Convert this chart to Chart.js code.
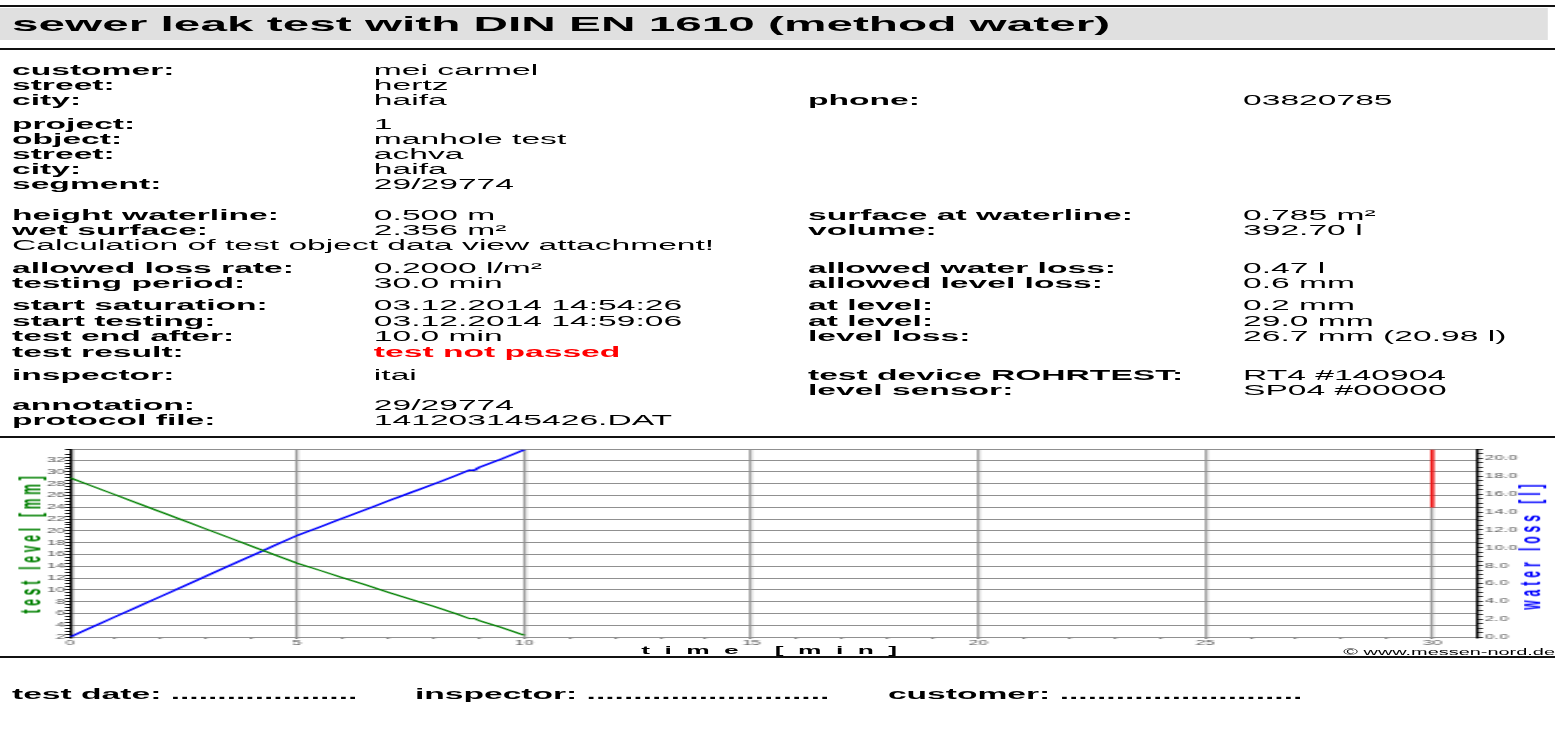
<!DOCTYPE html>
<html>
<head>
  <meta charset="UTF-8">
  <script src="https://cdn.jsdelivr.net/npm/chart.js"></script>
  <title>sewer leak test</title>
  <style>
    body { margin: 0; background: #fff; overflow: hidden; width: 1555px; height: 738px; }
    /* the report is laid out at 648px and stretched sideways like the original print */
    #page { position: absolute; left: 0; top: 0; width: 648px; height: 738px;
      transform-origin: 0 0; transform: scaleX(2.3997);
      font-family: "Liberation Sans", Arial, sans-serif; color: #000; }
    .t { position: absolute; white-space: nowrap; font-size: 14px; line-height: 16px; }
    .b { font-weight: bold; }
    .c1 { left: 5px; } .c2 { left: 155.8px; } .c3 { left: 336.7px; } .c4 { left: 518px; }
    .rule { position: absolute; left: 0; width: 648px; height: 2px; background: #111; }
    #titlebar { position: absolute; left: 0; top: 8px; width: 645px; height: 32px; background: #e0e0e0; }
    #title { position: absolute; left: 5px; top: 12px; font-size: 19.9px; line-height: 24px; font-weight: bold; white-space: nowrap; }
    #chartbox { position: absolute; left: 0; top: 440px; width: 648px; height: 217px; }
    .axt { position: absolute; white-space: nowrap; font-weight: bold; font-size: 12px; line-height: 12px; }
  </style>
</head>
<body>
<div id="page">
  <div class="rule" style="top:5px"></div>
  <div id="titlebar"></div>
  <div id="title">sewer leak test with DIN EN 1610 (method water)</div>
  <div class="rule" style="top:48px"></div>

  <div class="t b c1" style="top:62px">customer:</div><div class="t c2" style="top:62px">mei carmel</div>
  <div class="t b c1" style="top:77px">street:</div><div class="t c2" style="top:77px">hertz</div>
  <div class="t b c1" style="top:92px">city:</div><div class="t c2" style="top:92px">haifa</div>
  <div class="t b c3" style="top:92px">phone:</div><div class="t c4" style="top:92px">03820785</div>

  <div class="t b c1" style="top:116px">project:</div><div class="t c2" style="top:116px">1</div>
  <div class="t b c1" style="top:131px">object:</div><div class="t c2" style="top:131px">manhole test</div>
  <div class="t b c1" style="top:146px">street:</div><div class="t c2" style="top:146px">achva</div>
  <div class="t b c1" style="top:161px">city:</div><div class="t c2" style="top:161px">haifa</div>
  <div class="t b c1" style="top:176px">segment:</div><div class="t c2" style="top:176px">29/29774</div>

  <div class="t b c1" style="top:207px">height waterline:</div><div class="t c2" style="top:207px">0.500 m</div>
  <div class="t b c3" style="top:207px">surface at waterline:</div><div class="t c4" style="top:207px">0.785 m²</div>
  <div class="t b c1" style="top:222px">wet surface:</div><div class="t c2" style="top:222px">2.356 m²</div>
  <div class="t b c3" style="top:222px">volume:</div><div class="t c4" style="top:222px">392.70 l</div>
  <div class="t c1" style="top:237px">Calculation of test object data view attachment!</div>

  <div class="t b c1" style="top:260px">allowed loss rate:</div><div class="t c2" style="top:260px">0.2000 l/m²</div>
  <div class="t b c3" style="top:260px">allowed water loss:</div><div class="t c4" style="top:260px">0.47 l</div>
  <div class="t b c1" style="top:275px">testing period:</div><div class="t c2" style="top:275px">30.0 min</div>
  <div class="t b c3" style="top:275px">allowed level loss:</div><div class="t c4" style="top:275px">0.6 mm</div>

  <div class="t b c1" style="top:297px">start saturation:</div><div class="t c2" style="top:297px">03.12.2014 14:54:26</div>
  <div class="t b c3" style="top:297px">at level:</div><div class="t c4" style="top:297px">0.2 mm</div>
  <div class="t b c1" style="top:313px">start testing:</div><div class="t c2" style="top:313px">03.12.2014 14:59:06</div>
  <div class="t b c3" style="top:313px">at level:</div><div class="t c4" style="top:313px">29.0 mm</div>
  <div class="t b c1" style="top:328px">test end after:</div><div class="t c2" style="top:328px">10.0 min</div>
  <div class="t b c3" style="top:328px">level loss:</div><div class="t c4" style="top:328px">26.7 mm (20.98 l)</div>
  <div class="t b c1" style="top:344px">test result:</div><div class="t b c2" style="top:344px;color:#ff0000">test not passed</div>

  <div class="t b c1" style="top:367px">inspector:</div><div class="t c2" style="top:367px">itai</div>
  <div class="t b c3" style="top:367px">test device ROHRTEST:</div><div class="t c4" style="top:367px">RT4 #140904</div>
  <div class="t b c3" style="top:382px">level sensor:</div><div class="t c4" style="top:382px">SP04 #00000</div>

  <div class="t b c1" style="top:397px">annotation:</div><div class="t c2" style="top:397px">29/29774</div>
  <div class="t b c1" style="top:412px">protocol file:</div><div class="t c2" style="top:412px">141203145426.DAT</div>

  <div class="rule" style="top:436px"></div>

  <div id="chartbox"><canvas id="chart"></canvas></div>
  <div class="axt" style="left:12.5px;top:543px;transform:translate(-50%,-50%) rotate(-90deg);letter-spacing:3.8px;color:#008000">test level [mm]</div>
  <div class="axt" style="left:637.9px;top:545px;transform:translate(-50%,-50%) rotate(-90deg);letter-spacing:4px;color:#0000ff">water loss [l]</div>
  <div class="axt" style="left:323.5px;top:650px;transform:translate(-50%,-50%);font-size:11px;line-height:11px;letter-spacing:6px">time [min]</div>
  <div class="t" style="right:0;top:647px;font-size:8.3px;line-height:10px">© www.messen-nord.de</div>

  <div class="rule" style="top:656px"></div>

  <div class="t b c1" style="top:686px">test date: ....................</div>
  <div class="t b" style="left:172.9px;top:686px">inspector: ..........................</div>
  <div class="t b" style="left:370px;top:686px">customer: ..........................</div>
</div>

<script>
  // measured curve, minutes after start of testing
  const times     = [0, 0.5, 1, 1.5, 2, 2.5, 3, 3.5, 4, 4.5, 5, 5.5, 6, 6.5, 7, 7.5, 8, 8.5, 8.8, 8.9, 9.0, 9.5, 10];
  const testLevel = [29.0, 27.55, 26.1, 24.65, 23.2, 21.75, 20.3, 18.85, 17.4, 15.95, 14.5, 13.3, 12.05, 10.85, 9.6, 8.4, 7.2, 5.95, 5.1, 5.15, 4.8, 3.6, 2.3];
  const waterLoss = [0, 1.14, 2.28, 3.41, 4.55, 5.69, 6.83, 7.97, 9.11, 10.25, 11.38, 12.33, 13.31, 14.25, 15.23, 16.17, 17.11, 18.09, 18.7, 18.65, 18.98, 19.94, 20.98];
  // red mark at end of testing period
  const markerTime = [30, 30];
  const markerLoss = [21, 14.5];
  // axis ranges
  const levelMin = 2, levelMax = 33.8;
  const lossMin = 0, lossMax = 21;
  const timeMin = 0, timeMax = 31;

  const tickFont = { family: 'Liberation Sans', size: 7 };

  var ctx = document.getElementById('chart').getContext('2d');
  var chart = new Chart(ctx, {
    type: 'line',
    data: {
      datasets: [{
        label: 'test level [mm]',
        data: times.map((t, i) => ({ x: t, y: testLevel[i] })),
        borderColor: '#008000',
        borderWidth: 1.2,
        pointRadius: 0,
        yAxisID: 'y'
      }, {
        label: 'water loss [l]',
        data: times.map((t, i) => ({ x: t, y: waterLoss[i] })),
        borderColor: '#0000ff',
        borderWidth: 1.4,
        pointRadius: 0,
        yAxisID: 'y1'
      }, {
        label: 'mark',
        data: markerTime.map((t, i) => ({ x: t, y: markerLoss[i] })),
        borderColor: '#ff0000',
        borderWidth: 1.4,
        pointRadius: 0,
        yAxisID: 'y1'
      }]
    },
    options: {
      responsive: true,
      maintainAspectRatio: false,
      animation: false,
      layout: { padding: { top: 9.5, left: 0, right: 0, bottom: 0 } },
      plugins: { legend: { display: false }, tooltip: { enabled: false } },
      scales: {
        x: {
          type: 'linear',
          min: timeMin,
          max: timeMax,
          afterFit: s => { s.height = 20; },
          ticks: {
            stepSize: 1, autoSkip: false, maxRotation: 0, padding: 0,
            font: tickFont, color: '#555',
            callback: v => (v % 5 === 0 ? v : '')
          },
          grid: {
            color: c => (c.tick && c.tick.value % 5 === 0 && c.tick.value > 0) ? '#a0a0a0' : 'rgba(0,0,0,0)',
            lineWidth: 1.25,
            tickLength: 2,
            tickColor: '#888'
          },
          border: { display: false }
        },
        y: {
          position: 'left',
          min: levelMin,
          max: levelMax,
          afterFit: s => { s.width = 29.2; },
          ticks: {
            stepSize: 0.5, autoSkip: false, padding: 0,
            font: tickFont, color: '#555',
            callback: v => (v % 2 === 0 ? v : '')
          },
          grid: {
            color: c => (c.tick && (c.tick.value % 2 === 0 || c.tick.value === levelMax)) ? '#909090' : 'rgba(0,0,0,0)',
            lineWidth: 1,
            tickLength: 2,
            tickColor: '#000'
          },
          border: { color: '#000', width: 1.25 }
        },
        y1: {
          position: 'right',
          min: lossMin,
          max: lossMax,
          afterFit: s => { s.width = 32.2; },
          ticks: {
            stepSize: 0.5, autoSkip: false, padding: 1,
            font: tickFont, color: '#555',
            callback: v => (v % 2 === 0 ? v.toFixed(1) : '')
          },
          grid: { drawOnChartArea: false, tickLength: 2, tickColor: '#000' },
          border: { color: '#000', width: 1.25 }
        }
      }
    }
  });
</script>
</body>
</html>
